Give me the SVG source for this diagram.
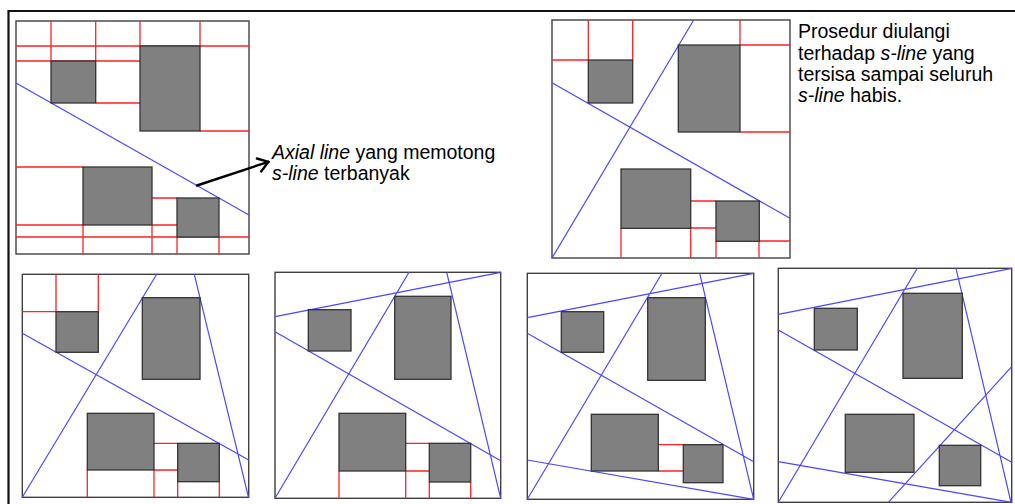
<svg xmlns="http://www.w3.org/2000/svg" width="1015" height="504" viewBox="0 0 1015 504">
<style>
.frame{fill:#fff;stroke:#404040;stroke-width:1.4}
.box{fill:#808080;stroke:#333;stroke-width:1.3}
.red{stroke:#ff2020;stroke-width:1.3;fill:none}
.blue{stroke:#4848ff;stroke-width:1.2;fill:none}
.txt{font-family:"Liberation Sans",Arial,sans-serif;font-size:19.5px;fill:#000}
.it{font-style:italic}
</style>
<defs>
<marker id="arr" markerUnits="userSpaceOnUse" markerWidth="20" markerHeight="20" viewBox="-12 -10 14 20" refX="0" refY="0" orient="auto">
<path d="M-10,-6.8 L0,0 L-10,6.8" fill="none" stroke="#000" stroke-width="2.4" stroke-linecap="round" stroke-linejoin="round"/>
</marker>
</defs>
<rect width="1015" height="504" fill="#fff"/>
<path d="M1016,11 H8.5 V505" fill="none" stroke="#111" stroke-width="2.2"/>

<g id="panel1">
<rect class="frame" x="16" y="21" width="233" height="233"/>
<path class="red" d="M51,21V61M95.7,21V61M140,21V46M200,21V46M16,46H249M16,61H140M95.7,103H140M200,131H249M16,167H83M152,198H177M16,225H83M152,225H177M16,237H249M83,225V254M152,225V254M177,237V254M219,237V254"/>
<path class="blue" d="M16,83L249,215"/>
<rect class="box" x="51" y="61" width="44.7" height="42"/>
<rect class="box" x="140" y="46" width="60" height="85"/>
<rect class="box" x="83" y="167" width="69" height="58"/>
<rect class="box" x="177" y="198" width="42" height="39"/>
</g>

<g id="panel2">
<rect class="frame" x="552" y="20" width="238" height="238"/>
<path class="red" d="M588.3,20V60M632.7,20V60M552,60H588M740,20V45M740,45H790M740,132H790M621,228V258M690.7,201H716M690.7,228H716M690.7,228V258M716,241V258M759,241H790M759,241V258"/>
<path class="blue" d="M552,82.7L790,218.3M552,258L693.7,20"/>
<rect class="box" x="588.3" y="60" width="44.4" height="43"/>
<rect class="box" x="678.3" y="45" width="61.7" height="87"/>
<rect class="box" x="621" y="169" width="69.7" height="59.3"/>
<rect class="box" x="716" y="201" width="43.3" height="40.3"/>
</g>

<g id="panel3">
<rect class="frame" x="22.3" y="274.3" width="226.4" height="223"/>
<path class="red" d="M56,274.3V311.7M98.3,274.3V311.7M22.3,311.7H56M154,443.3H177.7M154,470H177.7M87.3,470V497.3M154,470V497.3M177.7,481.7V497.3M219.3,481.7V497.3"/>
<path class="blue" d="M22.3,333.3L248.7,460M22.3,497.3L156.7,274.3M194.3,274.3L248.5,497.3"/>
<rect class="box" x="56" y="311.7" width="42.3" height="40.6"/>
<rect class="box" x="142.3" y="297.7" width="57.7" height="81.6"/>
<rect class="box" x="87.3" y="413.3" width="66.7" height="56.7"/>
<rect class="box" x="177.7" y="443.3" width="41.6" height="38.4"/>
</g>

<g id="panel4">
<rect class="frame" x="275" y="272.3" width="225.7" height="226"/>
<path class="red" d="M405.7,443.3H429.3M405.7,471H429.3M339,471V498.3M405.7,471V498.3M429.3,482V498.3M470.7,482V498.3"/>
<path class="blue" d="M275,331.7L500.7,460.7M275,498.3L409,272.3M446.7,272.3L500.7,498.3M275,316.7L500.7,272.3"/>
<rect class="box" x="308.3" y="309.7" width="42.7" height="41.3"/>
<rect class="box" x="394.7" y="296.3" width="56.3" height="83"/>
<rect class="box" x="339" y="413.3" width="66.7" height="57.7"/>
<rect class="box" x="429.3" y="443.3" width="41.4" height="38.7"/>
</g>

<g id="panel5">
<rect class="frame" x="527.3" y="273.3" width="226.4" height="226"/>
<path class="red" d="M658.3,444.7H683.3M658.3,471H683.3"/>
<path class="blue" d="M527.3,333.3L753.7,461.7M527.3,499.3L662,273.3M699.7,273.3L753.7,499.3M527.3,317.7L753.7,273.3M527.3,460L753.7,499.3"/>
<rect class="box" x="561.3" y="311.7" width="42.4" height="40.6"/>
<rect class="box" x="647.7" y="297.7" width="57.6" height="82.6"/>
<rect class="box" x="591.3" y="414.3" width="67" height="56.7"/>
<rect class="box" x="683.3" y="444.7" width="39.7" height="38"/>
</g>

<g id="panel6">
<rect class="frame" x="778.3" y="268.3" width="233.4" height="234"/>
<path class="blue" d="M778.3,330L1011.7,462.3M778.3,502.3L917.3,268.3M956,268.3L1011,502.3M778.3,314.3L1011.7,268.3M778.3,461.7L1011.7,502.3M888.3,502.3L1011.7,366.7"/>
<rect class="box" x="814.3" y="308.3" width="43" height="41.7"/>
<rect class="box" x="903" y="293.3" width="59.3" height="85"/>
<rect class="box" x="845.3" y="414.3" width="68.7" height="58"/>
<rect class="box" x="939.3" y="445.3" width="41.4" height="40.4"/>
</g>

<g id="connectors">
<path d="M197,185.5L268.5,161.8" fill="none" stroke="#000" stroke-width="2.4" stroke-linecap="round" marker-end="url(#arr)"/>
</g>

<g id="label1">
<text class="txt" x="272" y="159"><tspan class="it">Axial line</tspan> yang memotong</text>
<text class="txt" x="272" y="179.5"><tspan class="it">s-line</tspan> terbanyak</text>
</g>

<g id="label2">
<text class="txt" x="798" y="38">Prosedur diulangi</text>
<text class="txt" x="798" y="59.5">terhadap <tspan class="it">s-line</tspan> yang</text>
<text class="txt" x="798" y="80.5">tersisa sampai seluruh</text>
<text class="txt" x="798" y="101.5"><tspan class="it">s-line</tspan> habis.</text>
</g>
</svg>
